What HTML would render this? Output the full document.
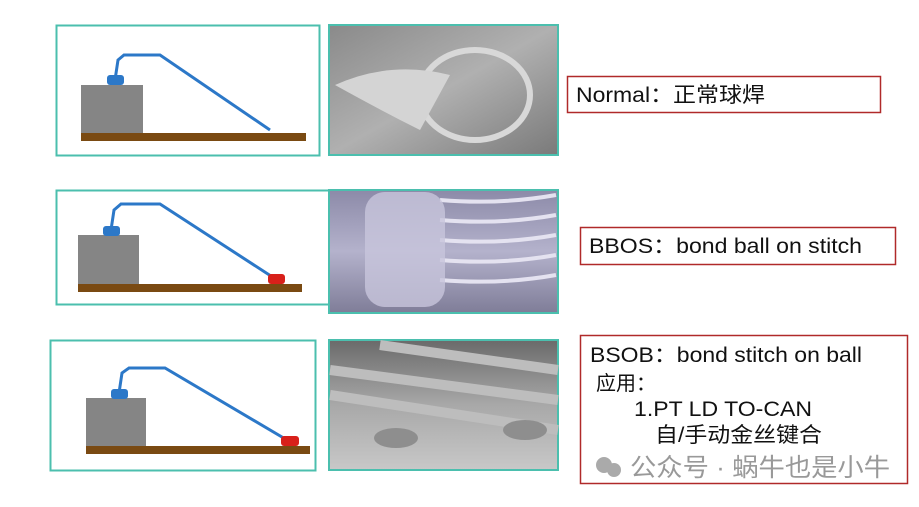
<!DOCTYPE html><html><head><style>body{margin:0;background:#fff}svg{display:block}</style></head><body>
<svg width="919" height="507" xmlns="http://www.w3.org/2000/svg" font-family="Liberation Sans, Noto Sans CJK SC, sans-serif">
<defs>
<linearGradient id="g1" x1="0" y1="0" x2="1" y2="1"><stop offset="0" stop-color="#8a8a8a"/><stop offset=".5" stop-color="#b0b0b0"/><stop offset="1" stop-color="#7a7a7a"/></linearGradient>
<linearGradient id="g2" x1="0" y1="0" x2="0" y2="1"><stop offset="0" stop-color="#8c8aa8"/><stop offset=".5" stop-color="#b4b2cc"/><stop offset="1" stop-color="#7f7d98"/></linearGradient>
<linearGradient id="g3" x1="0" y1="0" x2="0" y2="1"><stop offset="0" stop-color="#6a6a6a"/><stop offset=".5" stop-color="#a8a8a8"/><stop offset="1" stop-color="#c8c8c8"/></linearGradient>
</defs>
<rect x="56.5" y="25.5" width="263" height="130" fill="#fff" stroke="#4bbfae" stroke-width="2"/>
<rect x="81" y="85" width="62" height="48" fill="#858585"/>
<rect x="81" y="133" width="225" height="8" fill="#7a4a12"/>
<polyline points="115,80 118,60 124,55 160,55 270,130" fill="none" stroke="#2c78c8" stroke-width="3"/>
<rect x="107" y="75" width="17" height="10" rx="3" fill="#2c78c8"/>
<rect x="329" y="25" width="229" height="130" fill="url(#g1)" stroke="#4bbfae" stroke-width="2"/>
<ellipse cx="475" cy="95" rx="55" ry="45" fill="none" stroke="#d8d8d8" stroke-width="6"/>
<path d="M335 85 Q390 60 450 75 L420 130 Q380 110 335 85Z" fill="#d4d4d4"/>
<rect x="567.5" y="76.5" width="313" height="36" fill="#fff" stroke="#b02a2a" stroke-width="1.5"/>
<text x="576" y="102" font-size="21" fill="#111" textLength="189" lengthAdjust="spacingAndGlyphs">Normal：正常球焊</text>
<rect x="56.5" y="190.5" width="275" height="114" fill="#fff" stroke="#4bbfae" stroke-width="2"/>
<rect x="78" y="235" width="61" height="49" fill="#858585"/>
<rect x="78" y="284" width="224" height="8" fill="#7a4a12"/>
<polyline points="111,230 114,210 121,204 160,204 274,278" fill="none" stroke="#2c78c8" stroke-width="3"/>
<rect x="103" y="226" width="17" height="10" rx="3" fill="#2c78c8"/>
<rect x="268" y="274" width="17" height="10" rx="3" fill="#d8201a"/>
<rect x="329" y="190" width="229" height="123" fill="url(#g2)" stroke="#4bbfae" stroke-width="2"/>
<g stroke="#e4e2f0" stroke-width="4" fill="none"><path d="M440 200 Q500 205 556 195"/><path d="M440 220 Q500 225 556 215"/><path d="M440 240 Q500 245 556 235"/><path d="M440 260 Q500 265 556 255"/><path d="M440 280 Q500 285 556 275"/></g>
<rect x="365" y="192" width="80" height="115" rx="20" fill="#c8c6dc" opacity=".8"/>
<rect x="580.5" y="227.5" width="315" height="37" fill="#fff" stroke="#b02a2a" stroke-width="1.5"/>
<text x="589" y="253" font-size="21" fill="#111" textLength="273" lengthAdjust="spacingAndGlyphs">BBOS：bond ball on stitch</text>
<rect x="50.5" y="340.5" width="265" height="130" fill="#fff" stroke="#4bbfae" stroke-width="2"/>
<rect x="86" y="398" width="60" height="48" fill="#858585"/>
<rect x="86" y="446" width="224" height="8" fill="#7a4a12"/>
<polyline points="119,393 122,373 129,368 165,368 287,440" fill="none" stroke="#2c78c8" stroke-width="3"/>
<rect x="111" y="389" width="17" height="10" rx="3" fill="#2c78c8"/>
<rect x="281" y="436" width="18" height="10" rx="3" fill="#d8201a"/>
<rect x="329" y="340" width="229" height="130" fill="url(#g3)" stroke="#4bbfae" stroke-width="2"/>
<g stroke="#bdbdbd" stroke-width="10" fill="none"><path d="M330 370 L558 400"/><path d="M330 395 L558 430"/><path d="M380 345 L558 370"/></g>
<ellipse cx="396" cy="438" rx="22" ry="10" fill="#8e8e8e"/><ellipse cx="525" cy="430" rx="22" ry="10" fill="#8e8e8e"/>
<rect x="580.5" y="335.5" width="327" height="148" fill="#fff" stroke="#b02a2a" stroke-width="1.5"/>
<text x="590" y="362" font-size="21" fill="#111" textLength="272" lengthAdjust="spacingAndGlyphs">BSOB：bond stitch on ball</text>
<text x="596" y="390" font-size="20" fill="#111">应用：</text>
<text x="634" y="416" font-size="21" fill="#111" textLength="178" lengthAdjust="spacingAndGlyphs">1.PT LD TO-CAN</text>
<text x="655" y="442" font-size="21" fill="#111" textLength="167" lengthAdjust="spacingAndGlyphs">自/手动金丝键合</text>
<circle cx="604" cy="465" r="8" fill="#aaa"/><circle cx="614" cy="470" r="7" fill="#aaa"/>
<text x="630" y="476" font-size="25" fill="#999" textLength="260" lengthAdjust="spacingAndGlyphs">公众号 · 蜗牛也是小牛</text>
</svg>
</body></html>
